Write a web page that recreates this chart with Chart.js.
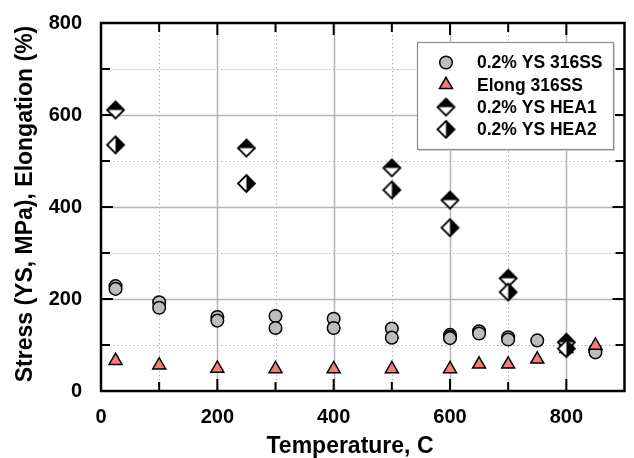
<!DOCTYPE html>
<html>
<head>
<meta charset="utf-8">
<script src="https://cdn.jsdelivr.net/npm/chart.js@4.4.0/dist/chart.umd.min.js"></script>
<style>
  html, body { margin: 0; padding: 0; background: #fff; }
  #chart { display: block; }
</style>
</head>
<body>
<canvas id="chart" width="634" height="458"></canvas>
<script>
// data
const ysTemp316 = [25, 25, 100, 100, 200, 200, 300, 300, 400, 400, 500, 500, 600, 600, 600, 650, 650, 700, 700, 750, 800, 800, 850, 850];
const ys316 = [228, 222, 193, 181, 161, 153, 163, 137, 157, 137, 136, 116, 122, 118, 115, 130, 125, 117, 112, 110, 100, 92, 89, 84];

const elongTemp316 = [25, 100, 200, 300, 400, 500, 600, 650, 700, 750, 800, 850];
const elong316 = [66, 56, 49, 48, 48, 48, 48, 58, 58, 69, 92, 99];

const heaTemp = [25, 250, 500, 600, 700, 800];
const ysHEA1 = [611, 528, 485, 415, 245, 106];
const ysHEA2 = [535, 451, 437, 355, 215, 92];

const seriesNames = ['0.2% YS 316SS', 'Elong 316SS', '0.2% YS HEA1', '0.2% YS HEA2'];
const xTickLabels = [0, 200, 400, 600, 800];
const yTickLabels = [0, 200, 400, 600, 800];

const FONT = '"Liberation Sans", Arial, Helvetica, sans-serif';

const toPoints = (xs, ys) => xs.map((x, i) => ({ x: x, y: ys[i] }));

// half filled diamonds, drawn once into small canvases
function halfDiamond(split) {
    const size = 21;
    const c = document.createElement('canvas');
    c.width = size;
    c.height = size;
    const g = c.getContext('2d');
    const m = size / 2;
    const r = 8.5;
    const top = [m, m - r], right = [m + r, m], bottom = [m, m + r], left = [m - r, m];

    const poly = (pts, color) => {
        g.beginPath();
        g.moveTo(pts[0][0], pts[0][1]);
        for (let i = 1; i < pts.length; i++) g.lineTo(pts[i][0], pts[i][1]);
        g.closePath();
        g.fillStyle = color;
        g.fill();
    };
    poly([left, top, right, bottom], '#ffffff');
    if (split === 'top') {
        poly([left, top, right], '#000000');
    } else {
        poly([top, right, bottom], '#000000');
    }
    g.beginPath();
    g.moveTo(top[0], top[1]);
    g.lineTo(right[0], right[1]);
    g.lineTo(bottom[0], bottom[1]);
    g.lineTo(left[0], left[1]);
    g.closePath();
    g.lineWidth = 1.8;
    g.strokeStyle = '#000000';
    g.stroke();
    return c;
}

const diamondTop = halfDiamond('top');
const diamondRight = halfDiamond('right');

// grid lines and inward ticks, placed through the chart scales
const frame = {
    id: 'frame',
    beforeDatasetsDraw(chart) {
        const { ctx, chartArea: a, scales: { x, y } } = chart;
        ctx.save();
        for (let v = 100; v < 900; v += 100) {
            const px = Math.round(x.getPixelForValue(v)) + 0.5;
            ctx.beginPath();
            ctx.moveTo(px, a.top);
            ctx.lineTo(px, a.bottom);
            if (v % 200 === 0) {
                ctx.setLineDash([]);
                ctx.strokeStyle = '#b4b4b4';
                ctx.lineWidth = 1.5;
            } else {
                ctx.setLineDash([1.5, 2.5]);
                ctx.strokeStyle = '#b0b0b0';
                ctx.lineWidth = 1;
            }
            ctx.stroke();
        }
        for (let v = 100; v < 800; v += 100) {
            const py = Math.round(y.getPixelForValue(v)) + 0.5;
            ctx.beginPath();
            ctx.moveTo(a.left, py);
            ctx.lineTo(a.right, py);
            if (v % 200 === 0) {
                ctx.setLineDash([]);
                ctx.strokeStyle = '#b4b4b4';
                ctx.lineWidth = 1.5;
            } else {
                ctx.setLineDash([1.5, 2.5]);
                ctx.strokeStyle = '#b0b0b0';
                ctx.lineWidth = 1;
            }
            ctx.stroke();
        }
        ctx.restore();
    },
    afterDatasetsDraw(chart) {
        const { ctx, chartArea: a, scales: { x, y } } = chart;
        ctx.save();
        ctx.strokeStyle = '#000000';
        ctx.lineWidth = 2;
        ctx.setLineDash([]);
        for (let v = 100; v < 900; v += 100) {
            const px = x.getPixelForValue(v);
            const len = v % 200 === 0 ? 12 : 9;
            ctx.beginPath();
            ctx.moveTo(px, a.bottom);
            ctx.lineTo(px, a.bottom - len);
            ctx.moveTo(px, a.top);
            ctx.lineTo(px, a.top + len);
            ctx.stroke();
        }
        for (let v = 100; v < 800; v += 100) {
            const py = y.getPixelForValue(v);
            const len = v % 200 === 0 ? 12 : 9;
            ctx.beginPath();
            ctx.moveTo(a.left, py);
            ctx.lineTo(a.left + len, py);
            ctx.moveTo(a.right, py);
            ctx.lineTo(a.right - len, py);
            ctx.stroke();
        }
        ctx.lineWidth = 2.5;
        ctx.strokeRect(a.left, a.top, a.right - a.left, a.bottom - a.top);
        ctx.restore();
    },
    afterDraw(chart) {
        const { ctx, chartArea: a } = chart;
        ctx.save();

        // axis titles
        ctx.fillStyle = '#000000';
        ctx.font = 'bold 23px ' + FONT;
        ctx.textAlign = 'center';
        ctx.textBaseline = 'alphabetic';
        ctx.fillText('Temperature, C', 350, 453);
        ctx.translate(32, (a.top + a.bottom) / 2 - 3);
        ctx.rotate(-Math.PI / 2);
        ctx.fillText('Stress (YS, MPa), Elongation (%)', 0, 0);
        ctx.setTransform(1, 0, 0, 1, 0, 0);

        // legend box with a soft shadow
        const bx = 417, by = 42, bw = 196, bh = 107;
        ctx.fillStyle = '#d8d8d8';
        ctx.fillRect(bx + 2, by + 2, bw, bh);
        ctx.fillStyle = '#ffffff';
        ctx.fillRect(bx, by, bw, bh);
        ctx.strokeStyle = '#8c8c8c';
        ctx.lineWidth = 1.2;
        ctx.strokeRect(bx + 0.5, by + 0.5, bw, bh);

        ctx.font = 'bold 17.5px ' + FONT;
        ctx.textAlign = 'left';
        ctx.textBaseline = 'middle';
        chart.data.datasets.forEach((ds, i) => {
            const ry = 62.5 + i * 22.3;
            ctx.fillStyle = ds.backgroundColor;
            ctx.strokeStyle = ds.borderColor;
            ctx.lineWidth = ds.borderWidth;
            Chart.helpers.drawPoint(ctx, {
                pointStyle: ds.pointStyle,
                radius: ds.pointRadius,
                rotation: 0,
                borderWidth: ds.borderWidth
            }, 446, ry);
            ctx.fillStyle = '#000000';
            ctx.fillText(ds.label, 477, ry + 1);
        });
        ctx.restore();
    }
};

new Chart(document.getElementById('chart'), {
    type: 'scatter',
    data: {
        datasets: [
            {
                label: seriesNames[0],
                data: toPoints(ysTemp316, ys316),
                pointStyle: 'circle',
                pointRadius: 6.3,
                backgroundColor: '#bdbdbd',
                borderColor: '#000000',
                borderWidth: 1.5,
                order: 4
            },
            {
                label: seriesNames[1],
                data: toPoints(elongTemp316, elong316),
                pointStyle: 'triangle',
                pointRadius: 7.5,
                backgroundColor: '#f77b7b',
                borderColor: '#000000',
                borderWidth: 1.5,
                order: 3
            },
            {
                label: seriesNames[2],
                data: toPoints(heaTemp, ysHEA1),
                pointStyle: diamondTop,
                pointRadius: 8,
                backgroundColor: '#000000',
                borderColor: '#000000',
                borderWidth: 1.5,
                order: 2
            },
            {
                label: seriesNames[3],
                data: toPoints(heaTemp, ysHEA2),
                pointStyle: diamondRight,
                pointRadius: 8,
                backgroundColor: '#000000',
                borderColor: '#000000',
                borderWidth: 1.5,
                order: 1
            }
        ]
    },
    options: {
        responsive: false,
        animation: false,
        layout: { padding: { top: 21, right: 2, left: 0, bottom: 0 } },
        plugins: {
            legend: { display: false },
            tooltip: { enabled: false }
        },
        scales: {
            x: {
                type: 'linear',
                position: 'bottom',
                min: 0,
                max: 900,
                grid: { display: false },
                border: { display: false },
                ticks: {
                    color: '#000000',
                    font: { family: FONT, size: 20, weight: 'bold' },
                    padding: 6,
                    maxRotation: 0,
                    autoSkip: false
                },
                afterBuildTicks: (s) => { s.ticks = xTickLabels.map(v => ({ value: v })); },
                afterFit: (s) => { s.height = 67; }
            },
            y: {
                type: 'linear',
                min: 0,
                max: 800,
                grid: { display: false },
                border: { display: false },
                ticks: {
                    color: '#000000',
                    font: { family: FONT, size: 20, weight: 'bold' },
                    padding: 11,
                    autoSkip: false
                },
                afterBuildTicks: (s) => { s.ticks = yTickLabels.map(v => ({ value: v })); },
                afterFit: (s) => { s.width = 101; }
            }
        }
    },
    plugins: [frame]
});
</script>
</body>
</html>
